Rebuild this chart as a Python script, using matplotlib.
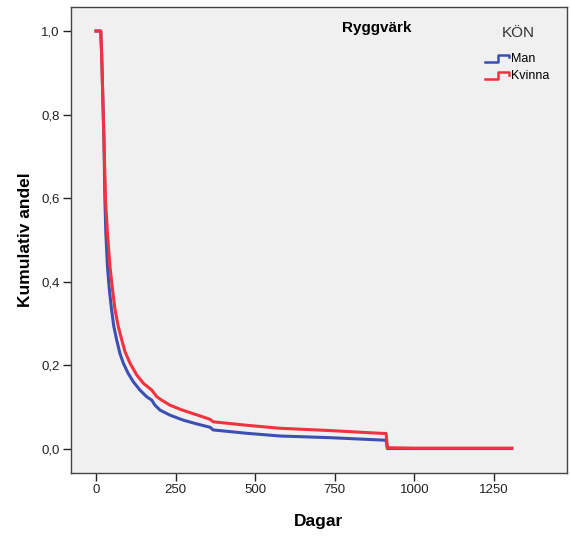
import matplotlib
matplotlib.use("Agg")
import matplotlib.pyplot as plt
from matplotlib.ticker import FuncFormatter

plt.rcParams['font.family'] = ['Liberation Sans', 'DejaVu Sans']

# cumulative share still on sick leave
man_days = [0, 15, 18, 25, 28, 31, 36, 42, 49, 56, 65, 75, 86, 101, 117, 138, 159, 175,
            185, 201, 232, 274, 316, 358, 368, 473, 578, 735, 892, 911, 915, 1000, 1305]
man_share = [1.0, 1.0, 0.94, 0.74, 0.596, 0.517, 0.437, 0.381, 0.333, 0.293, 0.261, 0.229,
             0.205, 0.181, 0.161, 0.141, 0.125, 0.117, 0.105, 0.093, 0.081, 0.069, 0.060,
             0.052, 0.0455, 0.0375, 0.031, 0.027, 0.0215, 0.021, 0.001, 0.001, 0.001]

kvinna_days = [0, 15, 18, 25, 30, 36, 44, 52, 60, 70, 81, 91, 107, 128, 149, 175, 191,
               206, 232, 264, 295, 327, 358, 368, 473, 578, 735, 892, 911, 915, 1000, 1306]
kvinna_share = [1.0, 1.0, 0.94, 0.74, 0.596, 0.517, 0.437, 0.381, 0.333, 0.293, 0.261,
                0.233, 0.205, 0.177, 0.157, 0.141, 0.125, 0.117, 0.105, 0.095, 0.087,
                0.079, 0.071, 0.065, 0.0567, 0.0495, 0.044, 0.0375, 0.037, 0.003, 0.002, 0.002]

x_ticks = [0, 250, 500, 750, 1000, 1250]
y_ticks = [0.0, 0.2, 0.4, 0.6, 0.8, 1.0]

blue = '#3C4FB3'
red = '#F2323F'

fig = plt.figure(figsize=(5.71, 5.37), dpi=100)
ax = fig.add_axes([0.1243, 0.1192, 0.8687, 0.8678])
ax.set_facecolor('#F0F0F0')

ax.plot(man_days, man_share, color=blue, lw=2.2)
ax.plot(kvinna_days, kvinna_share, color=red, lw=2.2)

ax.set_xlim(-78.5, 1479)
ax.set_ylim(-0.0575, 1.0575)
ax.set_xticks(x_ticks)
ax.set_yticks(y_ticks)
ax.yaxis.set_major_formatter(FuncFormatter(lambda v, p: f'{v:.1f}'.replace('.', ',')))
ax.tick_params(direction='out', length=6, width=1, labelsize=9.5, colors='#222222', pad=2)
for s in ax.spines.values():
    s.set_color('#444444')
    s.set_linewidth(1)

ax.set_xlabel('Dagar', fontsize=12.5, fontweight='bold', labelpad=13)
ax.set_ylabel('Kumulativ andel', fontsize=12.5, fontweight='bold', labelpad=6)

ax.text(0.617, 0.955, 'Ryggvärk', transform=ax.transAxes, ha='center', va='center',
        fontsize=11, fontweight='bold')

# legend with step-shaped handles
ax.text(0.901, 0.944, 'KÖN', transform=ax.transAxes, ha='center', va='center',
        fontsize=11, color='#333333')
for i, (name, col) in enumerate([('Man', blue), ('Kvinna', red)]):
    yb = 0.8876 - i * 0.0366
    hx = [0.835, 0.861, 0.861, 0.884, 0.884]
    hy = [yb - 0.0064, yb - 0.0064, yb + 0.010, yb + 0.010, yb + 0.004]
    ax.plot(hx, hy, color=col, lw=1.8, transform=ax.transAxes, clip_on=False)
    ax.text(0.887, yb, name, transform=ax.transAxes, ha='left', va='center', fontsize=9)

fig.savefig('out.png', dpi=100)
